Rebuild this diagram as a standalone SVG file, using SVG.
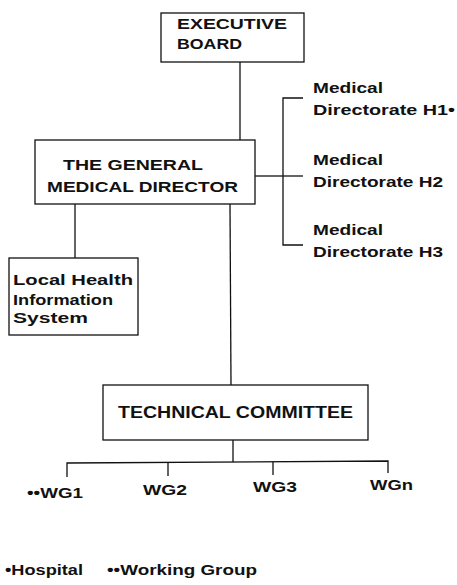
<svg xmlns="http://www.w3.org/2000/svg" width="457" height="585" viewBox="0 0 457 585">
<style>
.bg{fill:#fff}
.box{fill:none;stroke:#111;stroke-width:1.3}
.ln{fill:none;stroke:#111;stroke-width:1.3}
text{font-family:"Liberation Sans",Arial,sans-serif;font-size:14px;font-weight:bold;fill:#111}
.big{font-size:15px}
</style>
<rect class="bg" x="0" y="0" width="457" height="585"/>
<g id="connectors">
<line class="ln" x1="240" y1="62" x2="240" y2="140"/>
<line class="ln" x1="255" y1="176" x2="283" y2="176"/>
<polyline class="ln" points="303,98 283,98 283,245 303,245"/>
<line class="ln" x1="283" y1="176" x2="303" y2="176"/>
<line class="ln" x1="75" y1="204" x2="75" y2="258"/>
<line class="ln" x1="230" y1="204" x2="231" y2="385"/>
<line class="ln" x1="233" y1="440" x2="233" y2="462"/>
<polyline class="ln" points="67,477 67,463 388,461 388,473"/>
<line class="ln" x1="168" y1="462" x2="168" y2="476"/>
<line class="ln" x1="273" y1="462" x2="273" y2="475"/>
</g>
<g id="executive-board">
<rect class="box" x="161" y="13" width="143" height="49"/>
<text class="big" x="177" y="29" textLength="110" lengthAdjust="spacingAndGlyphs">EXECUTIVE</text>
<text class="big" x="177" y="49" textLength="65" lengthAdjust="spacingAndGlyphs">BOARD</text>
</g>
<g id="general-medical-director">
<rect class="box" x="35" y="140" width="220" height="64"/>
<text class="big" x="63" y="170" textLength="140" lengthAdjust="spacingAndGlyphs">THE GENERAL</text>
<text class="big" x="47" y="192" textLength="191" lengthAdjust="spacingAndGlyphs">MEDICAL DIRECTOR</text>
</g>
<g id="directorate-h1">
<text x="313" y="93" textLength="70" lengthAdjust="spacingAndGlyphs">Medical</text>
<text x="313" y="115" textLength="142" lengthAdjust="spacingAndGlyphs">Directorate  H1•</text>
</g>
<g id="directorate-h2">
<text x="313" y="165" textLength="70" lengthAdjust="spacingAndGlyphs">Medical</text>
<text x="313" y="187" textLength="130" lengthAdjust="spacingAndGlyphs">Directorate  H2</text>
</g>
<g id="directorate-h3">
<text x="313" y="235" textLength="70" lengthAdjust="spacingAndGlyphs">Medical</text>
<text x="313" y="257" textLength="130" lengthAdjust="spacingAndGlyphs">Directorate  H3</text>
</g>
<g id="local-health-information-system">
<rect class="box" x="9" y="258" width="129" height="77"/>
<text x="13" y="285" textLength="120" lengthAdjust="spacingAndGlyphs">Local Health</text>
<text x="13" y="305" textLength="100" lengthAdjust="spacingAndGlyphs">Information</text>
<text x="13" y="323" textLength="75" lengthAdjust="spacingAndGlyphs">System</text>
</g>
<g id="technical-committee">
<rect class="box" x="103" y="385" width="265" height="55"/>
<text x="118" y="418" style="font-size:16px" textLength="235" lengthAdjust="spacingAndGlyphs">TECHNICAL  COMMITTEE</text>
</g>
<g id="wg1"><text x="27" y="498" textLength="56" lengthAdjust="spacingAndGlyphs">••WG1</text></g>
<g id="wg2"><text x="143" y="495" textLength="44" lengthAdjust="spacingAndGlyphs">WG2</text></g>
<g id="wg3"><text x="253" y="492" textLength="44" lengthAdjust="spacingAndGlyphs">WG3</text></g>
<g id="wgn"><text x="370" y="490" textLength="43" lengthAdjust="spacingAndGlyphs">WGn</text></g>
<g id="legend">
<text x="5" y="575" textLength="78" lengthAdjust="spacingAndGlyphs">•Hospital</text>
<text x="107" y="575" textLength="150" lengthAdjust="spacingAndGlyphs">••Working Group</text>
</g>
</svg>
